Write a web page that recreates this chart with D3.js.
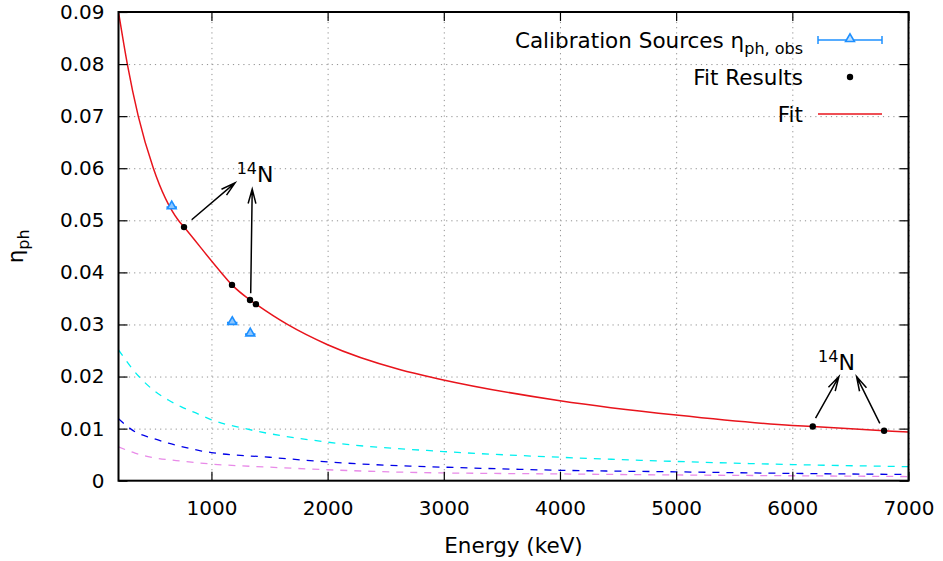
<!DOCTYPE html>
<html>
<head>
    <title>eta_ph vs energy</title>
    <script src="https://cdn.jsdelivr.net/npm/d3@7/dist/d3.min.js" type="text/javascript"></script>
    <style type="text/css">
        body { margin: 0; background: #fff; }
        svg { font-family: "DejaVu Sans", sans-serif; }
    </style>
</head>
<body>
<div id="chart"></div>
<script type="text/javascript">
    // values
    var xTicks = [1000, 2000, 3000, 4000, 5000, 6000, 7000];
    var yTicks = [0, 0.01, 0.02, 0.03, 0.04, 0.05, 0.06, 0.07, 0.08, 0.09];

    // fit curve (red)
    var fitE   = [200, 276, 370, 500, 715, 764, 1083, 1177, 1332, 1383, 1654, 2000, 2626, 2967, 4000, 5000, 6000, 6176, 6790, 7000];
    var fitEta = [0.09, 0.08, 0.07, 0.06, 0.05, 0.0487, 0.04, 0.0376, 0.0347, 0.0339, 0.03, 0.0261, 0.0213, 0.0195, 0.01535, 0.0126, 0.0106, 0.0104, 0.0096, 0.00934];

    // dashed component curves
    var cyanE    = [200, 376, 500, 629, 758, 887, 1000, 1290, 2000, 3000, 4000, 5000, 6000, 7000];
    var cyanEta  = [0.0251, 0.02, 0.0174, 0.0155, 0.014, 0.0128, 0.0117, 0.01, 0.0074, 0.0056, 0.0045, 0.0037, 0.0031, 0.0027];
    var blueE    = [200, 342, 486, 629, 772, 916, 1000, 1500, 2000, 2708, 3000, 4000, 5000, 6000, 7000];
    var blueEta  = [0.0119, 0.0094, 0.0082, 0.0072, 0.0064, 0.0057, 0.0054, 0.0045, 0.0036, 0.0028, 0.0026, 0.002, 0.0017, 0.0014, 0.0012];
    var violetE   = [200, 342, 486, 772, 1000, 1500, 2000, 2708, 4000, 5000, 6000, 7000];
    var violetEta = [0.0065, 0.0053, 0.0045, 0.0037, 0.0032, 0.0026, 0.0021, 0.0016, 0.0013, 0.0011, 0.00095, 0.0008];

    // calibration sources (triangles with x error bars)
    var calE   = [658, 1179, 1334];
    var calEta = [0.0527, 0.0305, 0.0283];
    var calErr = [45, 45, 45];

    // fit results (black dots)
    var ptE   = [764, 1177, 1332, 1383, 6176, 6790];
    var ptEta = [0.0487, 0.0376, 0.0347, 0.0339, 0.0104, 0.0096];

    // 14N labels and arrows
    var labelE   = [1217, 6222];
    var labelEta = [0.0574, 0.0213];
    var arrowFromE   = [830, 1338, 6200, 6753];
    var arrowFromEta = [0.0501, 0.0360, 0.0120, 0.0110];
    var arrowToE     = [1203, 1351, 6401, 6553];
    var arrowToEta   = [0.0572, 0.0560, 0.0200, 0.0200];

    var legendLabels = ["Calibration Sources \u03b7", "Fit Results", "Fit"];

    var W = 943, H = 561;
    var plotL = 118.5, plotR = 908.5, plotT = 12, plotB = 480.7;
    var fs = 21.5;

    var svg = d3.select('#chart').append('svg')
        .attr('width', W)
        .attr('height', H);

    var x = d3.scaleLinear().domain([200, 7000]).range([plotL, plotR]);
    var y = d3.scaleLinear().domain([0, 0.09]).range([plotB, plotT]);

    // grid
    svg.append('g')
        .attr('transform', 'translate(0,' + plotB + ')')
        .call(d3.axisBottom(x).tickValues(xTicks).tickSize(-(plotB - plotT)).tickFormat(''))
        .call(function(g) {
            g.select('.domain').remove();
            g.selectAll('line').attr('stroke', '#909090').attr('stroke-dasharray', '1.2,4');
        });
    svg.append('g')
        .attr('transform', 'translate(' + plotL + ',0)')
        .call(d3.axisLeft(y).tickValues(yTicks.slice(1, -1)).tickSize(-(plotR - plotL)).tickFormat(''))
        .call(function(g) {
            g.select('.domain').remove();
            g.selectAll('line').attr('stroke', '#909090').attr('stroke-dasharray', '1.2,4');
        });

    svg.append('clipPath').attr('id', 'clip')
        .append('rect').attr('x', plotL).attr('y', plotT).attr('width', plotR - plotL).attr('height', plotB - plotT);

    var plot = svg.append('g').attr('clip-path', 'url(#clip)');

    var line = d3.line()
        .x(function(d) { return x(d[0]); })
        .y(function(d) { return y(d[1]); })
        .curve(d3.curveMonotoneX);

    var dashed = [[cyanE, cyanEta, '#00f0f0'], [blueE, blueEta, '#0000e8'], [violetE, violetEta, '#e88ae8']];
    dashed.forEach(function(s) {
        plot.append('path')
            .datum(d3.zip(s[0], s[1]))
            .attr('d', line)
            .attr('fill', 'none')
            .attr('stroke', s[2])
            .attr('stroke-width', 1.3)
            .attr('stroke-dasharray', '7,7');
    });

    plot.append('path')
        .datum(d3.zip(fitE, fitEta))
        .attr('d', line)
        .attr('fill', 'none')
        .attr('stroke', '#e8141c')
        .attr('stroke-width', 1.5);

    // calibration points
    var tri = d3.symbol(d3.symbolTriangle, 34);
    var cal = plot.selectAll('g.cal').data(d3.zip(calE, calEta, calErr)).enter().append('g');
    cal.append('line')
        .attr('x1', function(d) { return x(d[0] - d[2]); })
        .attr('x2', function(d) { return x(d[0] + d[2]); })
        .attr('y1', function(d) { return y(d[1]) + 1; })
        .attr('y2', function(d) { return y(d[1]) + 1; })
        .attr('stroke', '#1e90ff').attr('stroke-width', 2);
    cal.append('path')
        .attr('d', tri)
        .attr('transform', function(d) { return 'translate(' + x(d[0]) + ',' + y(d[1]) + ')'; })
        .attr('fill', '#8cc6ff').attr('stroke', '#1e90ff').attr('stroke-width', 1.6);

    plot.selectAll('circle.pt').data(d3.zip(ptE, ptEta)).enter().append('circle')
        .attr('cx', function(d) { return x(d[0]); })
        .attr('cy', function(d) { return y(d[1]); })
        .attr('r', 3.2)
        .attr('fill', '#000');

    // arrows
    var headLen = 15, headAng = 15 * Math.PI / 180;
    d3.range(arrowFromE.length).forEach(function(i) {
        var x1 = x(arrowFromE[i]), y1 = y(arrowFromEta[i]);
        var x2 = x(arrowToE[i]), y2 = y(arrowToEta[i]);
        var a = Math.atan2(y2 - y1, x2 - x1);
        var p = d3.path();
        p.moveTo(x1, y1); p.lineTo(x2, y2);
        p.moveTo(x2 - headLen * Math.cos(a - headAng), y2 - headLen * Math.sin(a - headAng));
        p.lineTo(x2, y2);
        p.lineTo(x2 - headLen * Math.cos(a + headAng), y2 - headLen * Math.sin(a + headAng));
        svg.append('path').attr('d', p.toString())
            .attr('fill', 'none').attr('stroke', '#000').attr('stroke-width', 1.5);
    });

    d3.range(labelE.length).forEach(function(i) {
        var t = svg.append('text')
            .attr('x', x(labelE[i]))
            .attr('y', y(labelEta[i]))
            .attr('font-size', 22);
        t.append('tspan').attr('font-size', 16).attr('dy', -8).text('14');
        t.append('tspan').attr('dy', 8).text('N');
    });

    // axes, ticks inward on all four sides
    function styleAxis(g) {
        g.select('.domain').remove();
        g.selectAll('line').attr('stroke', '#000').attr('stroke-width', 1.2);
        g.selectAll('text').attr('font-size', 20).attr('fill', '#000').attr('font-family', '"DejaVu Sans", sans-serif');
    }
    svg.append('g')
        .attr('transform', 'translate(0,' + plotB + ')')
        .call(d3.axisBottom(x).tickValues(xTicks).tickSize(-9).tickPadding(20).tickFormat(d3.format('d')))
        .call(styleAxis);
    svg.append('g')
        .attr('transform', 'translate(0,' + plotT + ')')
        .call(d3.axisTop(x).tickValues(xTicks).tickSize(-9).tickFormat(''))
        .call(styleAxis);
    svg.append('g')
        .attr('transform', 'translate(' + plotL + ',0)')
        .call(d3.axisLeft(y).tickValues(yTicks).tickSize(-9).tickPadding(14)
            .tickFormat(function(d) { return d === 0 ? '0' : d3.format('.2f')(d); }))
        .call(styleAxis);
    svg.append('g')
        .attr('transform', 'translate(' + plotR + ',0)')
        .call(d3.axisRight(y).tickValues(yTicks).tickSize(-9).tickFormat(''))
        .call(styleAxis);

    svg.append('rect')
        .attr('x', plotL).attr('y', plotT)
        .attr('width', plotR - plotL).attr('height', plotB - plotT)
        .attr('fill', 'none').attr('stroke', '#000').attr('stroke-width', 2);

    // axis titles
    svg.append('text')
        .attr('x', (plotL + plotR) / 2).attr('y', 553)
        .attr('text-anchor', 'middle').attr('font-size', fs)
        .text('Energy (keV)');
    var yl = svg.append('text')
        .attr('transform', 'translate(23,' + ((plotT + plotB) / 2) + ') rotate(-90)')
        .attr('text-anchor', 'middle').attr('font-size', fs);
    yl.append('tspan').text('\u03b7');
    yl.append('tspan').attr('font-size', 16).attr('dy', 6).text('ph');

    // legend
    var legX = 803, sx1 = 818, sx2 = 882;
    var rowY = [40, 77, 114];
    var leg = svg.append('g');
    legendLabels.forEach(function(lab, i) {
        var t = leg.append('text')
            .attr('x', legX).attr('y', rowY[i] + 8)
            .attr('text-anchor', 'end').attr('font-size', fs)
            .text(lab);
        if (i === 0) {
            t.append('tspan').attr('font-size', 16).attr('dy', 6).text('ph, obs');
        }
    });
    leg.append('line').attr('x1', sx1).attr('x2', sx2).attr('y1', rowY[0]).attr('y2', rowY[0])
        .attr('stroke', '#1e90ff').attr('stroke-width', 1.5);
    [sx1, sx2].forEach(function(cx) {
        leg.append('line').attr('x1', cx).attr('x2', cx).attr('y1', rowY[0] - 4).attr('y2', rowY[0] + 4)
            .attr('stroke', '#1e90ff').attr('stroke-width', 1.5);
    });
    leg.append('path').attr('d', tri)
        .attr('transform', 'translate(' + ((sx1 + sx2) / 2) + ',' + (rowY[0] - 1) + ')')
        .attr('fill', '#bfe0ff').attr('stroke', '#1e90ff').attr('stroke-width', 1.6);
    leg.append('circle').attr('cx', (sx1 + sx2) / 2).attr('cy', rowY[1]).attr('r', 3.2).attr('fill', '#000');
    leg.append('line').attr('x1', sx1).attr('x2', sx2).attr('y1', rowY[2]).attr('y2', rowY[2])
        .attr('stroke', '#e8141c').attr('stroke-width', 1.5);
</script>
</body>
</html>
